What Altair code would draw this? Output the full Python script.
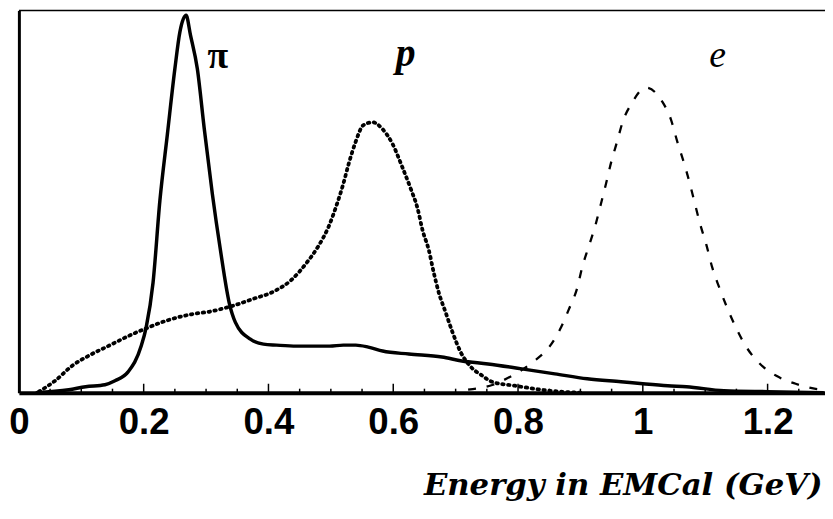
import altair as alt
import pandas as pd

# ---- data (energy in GeV, counts in arbitrary units) ----
pion_e = [0.027, 0.08, 0.107, 0.138, 0.154, 0.175, 0.196, 0.204, 0.215, 0.226, 0.238, 0.25, 0.258,
          0.268, 0.275, 0.286, 0.297, 0.31, 0.323, 0.337, 0.347, 0.371, 0.392, 0.413, 0.445, 0.475,
          0.498, 0.52, 0.54, 0.56, 0.583, 0.625, 0.678, 0.71, 0.752, 0.806, 0.859, 0.911, 0.965,
          1.0, 1.04, 1.07, 1.13, 1.2, 1.29]
pion_n = [0, 3, 6, 8, 12, 21, 47, 66, 111, 194, 261, 327, 364,
          381, 361, 327, 267, 201, 144, 91, 71, 54, 49, 48, 47, 47,
          47, 48, 48, 46, 42, 39, 36, 32, 29, 24, 19, 14, 11,
          9, 7, 6, 2, 1, 0]

proton_e = [0.032, 0.058, 0.085, 0.114, 0.143, 0.175, 0.204, 0.238, 0.275, 0.307, 0.339, 0.377,
            0.408, 0.437, 0.461, 0.48, 0.496, 0.509, 0.52, 0.529, 0.539, 0.552, 0.567, 0.583,
            0.599, 0.615, 0.628, 0.639, 0.647, 0.657, 0.665, 0.673, 0.684, 0.695, 0.708, 0.723,
            0.743, 0.758, 0.795, 0.85, 0.9]
proton_n = [1, 12, 27, 38, 47, 57, 65, 73, 79, 82, 87, 95,
            102, 114, 131, 148, 167, 189, 211, 232, 252, 270, 273, 266,
            251, 227, 206, 186, 164, 144, 121, 101, 81, 61, 41, 27,
            17, 11, 7, 2, 0]

electron_e = [0.72, 0.76, 0.79, 0.824, 0.851, 0.869, 0.882, 0.895, 0.903, 0.913, 0.924, 0.933,
              0.941, 0.949, 0.959, 0.968, 0.982, 1.005, 1.031, 1.045, 1.055, 1.065, 1.075, 1.083,
              1.092, 1.102, 1.111, 1.122, 1.135, 1.149, 1.165, 1.188, 1.214, 1.245, 1.275, 1.29]
electron_n = [3, 8, 17, 31, 47, 66, 85, 106, 127, 147, 169, 191,
              211, 232, 254, 274, 292, 308, 294, 276, 254, 234, 212, 192,
              170, 149, 127, 107, 86, 66, 47, 29, 17, 9, 4, 3]

tick_values = [0.05, 0.1, 0.15, 0.2, 0.25, 0.3, 0.35, 0.4, 0.45, 0.5, 0.55, 0.6, 0.65,
               0.7, 0.75, 0.8, 0.85, 0.9, 0.95, 1.0, 1.05, 1.1, 1.15, 1.2, 1.25]
tick_major = [False, False, False, True, False, False, False, True, False, False, False, True, False,
              False, False, True, False, False, False, True, False, False, False, True, False]

label_text = ["π", "p", "e"]
label_e = [0.319, 0.62, 1.12]
label_n = [328, 330, 329]

axis_labels = [0, 0.2, 0.4, 0.6, 0.8, 1.0, 1.2]

# ---- tables ----
pion = pd.DataFrame({"E": pion_e, "N": pion_n})
proton = pd.DataFrame({"E": proton_e, "N": proton_n})
electron = pd.DataFrame({"E": electron_e, "N": electron_n})
ticks = pd.DataFrame({"E": tick_values,
                      "len": [9 if m else 4 for m in tick_major],
                      "zero": [0] * len(tick_values)})
labels = pd.DataFrame({"t": label_text, "E": label_e, "N": label_n})

W, H = 814, 386
xs = alt.Scale(domain=[0, 1.292], nice=False, zero=False)
ys = alt.Scale(domain=[0, 386], nice=False)

x_enc = alt.X("E:Q", scale=xs,
              axis=alt.Axis(values=axis_labels, format="~g", title="Energy in EMCal (GeV)",
                            ticks=False, grid=False, domainColor="black", domainWidth=4,
                            labelFont="Liberation Sans", labelFontWeight="bold", labelFontSize=37,
                            labelColor="black", labelPadding=12, labelFlush=False,
                            titleFont="DejaVu Serif", titleFontStyle="italic", titleFontWeight="bold",
                            titleFontSize=31, titleColor="black", titleAnchor="end", titleAlign="right",
                            titleBaseline="alphabetic", titleX=811, titleY=103))
y_enc = alt.Y("N:Q", scale=ys,
              axis=alt.Axis(labels=False, ticks=False, grid=False, title=None,
                            domainColor="black", domainWidth=3))

pion_line = alt.Chart(pion).mark_line(color="black", strokeWidth=3.5, interpolate="monotone").encode(
    x=x_enc, y=y_enc)
proton_line = alt.Chart(proton).mark_line(color="black", strokeWidth=3.8, strokeDash=[1.5, 4.5],
                                          strokeCap="round", interpolate="monotone").encode(
    x=alt.X("E:Q", scale=xs), y=alt.Y("N:Q", scale=ys))
electron_line = alt.Chart(electron).mark_line(color="black", strokeWidth=2.3, strokeDash=[8, 11],
                                              interpolate="monotone").encode(
    x=alt.X("E:Q", scale=xs), y=alt.Y("N:Q", scale=ys))

tick_rules = alt.Chart(ticks).mark_rule(color="black", strokeWidth=1.5).encode(
    x=alt.X("E:Q", scale=xs), y=alt.Y("zero:Q", scale=ys), y2="len:Q")

top_border = alt.Chart(pd.DataFrame({"E": [0]})).mark_rule(color="black", strokeWidth=1.5).encode(
    x=alt.value(0), x2=alt.value(W), y=alt.value(0))

pi_text = alt.Chart(labels.iloc[[0]]).mark_text(font="Liberation Serif", fontWeight="bold",
                                                fontSize=38, baseline="alphabetic", color="black").encode(
    x=alt.X("E:Q", scale=xs), y=alt.Y("N:Q", scale=ys), text="t:N")
p_text = alt.Chart(labels.iloc[[1]]).mark_text(font="Liberation Serif", fontWeight="bold",
                                               fontStyle="italic", fontSize=40, baseline="alphabetic",
                                               color="black").encode(
    x=alt.X("E:Q", scale=xs), y=alt.Y("N:Q", scale=ys), text="t:N")
e_text = alt.Chart(labels.iloc[[2]]).mark_text(font="Liberation Serif", fontStyle="italic",
                                               fontSize=38, baseline="alphabetic", color="black").encode(
    x=alt.X("E:Q", scale=xs), y=alt.Y("N:Q", scale=ys), text="t:N")

chart = alt.layer(pion_line, proton_line, electron_line, tick_rules, top_border,
                  pi_text, p_text, e_text).properties(
    width=W, height=H,
    autosize=alt.AutoSizeParams(type="none"),
    padding={"left": 11, "top": 0, "right": 0, "bottom": 109},
    background="white",
).configure_view(stroke=None)

chart.save("out.html", embed_options={"renderer": "svg", "actions": False})
